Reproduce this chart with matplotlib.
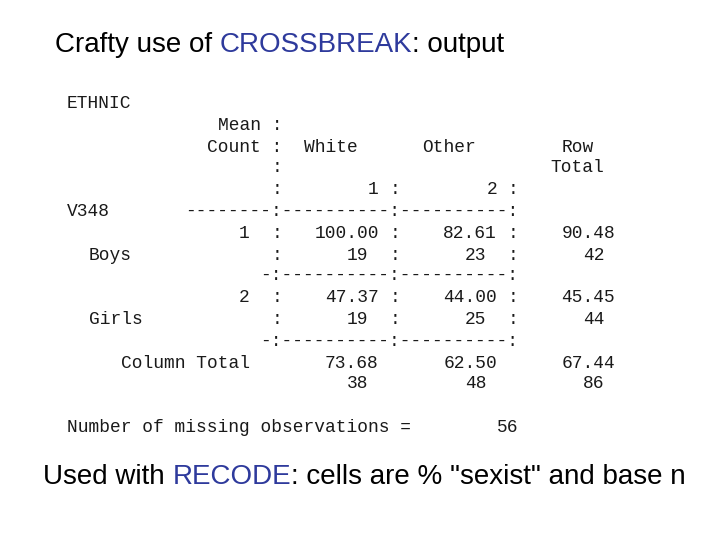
import matplotlib
matplotlib.use("Agg")
import matplotlib.pyplot as plt

groups = ["Boys", "Girls"]
codes = ["1", "2"]
col_heads = ["White", "Other"]
col_codes = ["1", "2"]
means = [[100.00, 82.61], [47.37, 44.00]]
counts = [[19, 23], [19, 25]]
row_means = [90.48, 45.45]
row_counts = [42, 44]
col_means = [73.68, 62.50]
col_counts = [38, 48]
total_mean = 67.44
total_count = 86
missing = 56

fig = plt.figure(figsize=(7.2, 5.4), dpi=100)
ax = fig.add_axes([0, 0, 1, 1])
ax.set_xlim(0, 720)
ax.set_ylim(540, 0)
ax.axis("off")

X0, CW = 67, 10.75
MONO = dict(family="Liberation Mono", fontsize=12.9, va="center", ha="left",
            color="#1a1a1a")


def put(col, y, s):
    ax.text(X0 + col * CW, y, s, **MONO)


def rput(endcol, y, s):
    put(endcol - len(s) + 1, y, s)


put(0, 103, "ETHNIC")
put(14, 126, "Mean :")
put(13, 147, "Count :")
put(22, 147, col_heads[0])
put(33, 147, col_heads[1])
put(46, 147, "Row")
put(19, 168, ":")
put(45, 168, "Total")
put(19, 190, ":")
rput(28, 190, col_codes[0]); put(30, 190, ":")
rput(39, 190, col_codes[1]); put(41, 190, ":")
put(0, 211, "V348")
put(11, 211, "--------:----------:----------:")

rows_y = [(233, 255, 276), (297, 319, 341)]
for i, (ym, yc, yd) in enumerate(rows_y):
    put(16, ym, codes[i])
    put(2, yc, groups[i])
    for y in (ym, yc):
        put(19, y, ":")
        put(30, y, ":")
        put(41, y, ":")
    rput(28, ym, f"{means[i][0]:.2f}")
    rput(39, ym, f"{means[i][1]:.2f}")
    rput(27, yc, str(counts[i][0]))
    rput(38, yc, str(counts[i][1]))
    rput(50, ym, f"{row_means[i]:.2f}")
    rput(49, yc, str(row_counts[i]))
    put(18, yd, "-:----------:----------:")

put(5, 363, "Column Total")
rput(28, 363, f"{col_means[0]:.2f}")
rput(39, 363, f"{col_means[1]:.2f}")
rput(50, 363, f"{total_mean:.2f}")
rput(27, 384, str(col_counts[0]))
rput(38, 384, str(col_counts[1]))
rput(49, 384, str(total_count))
put(0, 427, "Number of missing observations =")
put(40, 427, str(missing))

BLUE = "#2e3a9c"
fig.canvas.draw()
r = fig.canvas.get_renderer()


def rich(x, y, parts, size):
    for s, c in parts:
        t = ax.text(x, y, s, family="Liberation Sans", fontsize=size,
                    color=c, va="center", ha="left")
        bb = t.get_window_extent(renderer=r)
        x += bb.width


rich(55, 45, [("Crafty use of ", "black"), ("CROSSBREAK", BLUE),
              (": output", "black")], 20)
rich(43, 477, [("Used with ", "black"), ("RECODE", BLUE),
               (": cells are % \"sexist\" and base n", "black")], 20)

fig.savefig("out.png", dpi=100)
